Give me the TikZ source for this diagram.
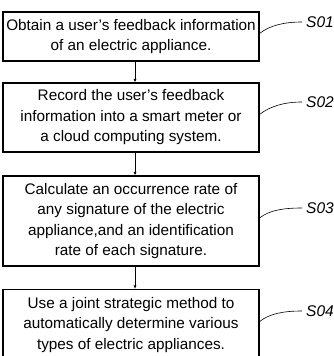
\documentclass[tikz,border=0pt]{standalone}
\usepackage{fontspec}
\setmainfont{Liberation Sans}
\usetikzlibrary{arrows.meta}
\begin{document}
\begin{tikzpicture}[x=1pt,y=1pt,
  box/.style={draw, line width=1.1pt, minimum width=256pt, inner sep=0pt, align=center,
    font=\fontsize{15.3}{20.5}\selectfont},
  lab/.style={inner sep=0pt, anchor=west, font=\fontsize{15.5}{18}\selectfont\itshape},
  conn/.style={line width=0.9pt, -{Latex[length=3.5pt,width=3pt]}},
  leader/.style={line width=0.6pt}]
\useasboundingbox[fill=white] (0,0) rectangle (334,356);
\node[box, minimum height=49pt] (b1) at (131,319.5) {Obtain a user's feedback information\\of an electric appliance.};
\node[box, minimum height=69pt] (b2) at (131,238.5) {Record the user's feedback\\information into a smart meter or\\a cloud computing system.};
\node[box, minimum height=90pt] (b3) at (131,135) {Calculate an occurrence rate of\\any signature of the electric\\appliance,and an identification\\rate of each signature.};
\node[box, minimum height=70pt, anchor=north] (b4) at (131,67) {Use a joint strategic method to\\automatically determine various\\types of electric appliances.};
\node[lab] (s1) at (306,334) {S01};
\node[lab] (s2) at (306,254) {S02};
\node[lab] (s3) at (306,148) {S03};
\node[lab] (s4) at (306,45) {S04};
\draw[conn] ([xshift=4pt]b1.south) -- ([xshift=4pt]b2.north);
\draw[conn] ([xshift=4pt]b2.south) -- ([xshift=4pt]b3.north);
\draw[conn] ([xshift=4pt]b3.south) -- ([xshift=4pt]b4.north);
\draw[leader] ([yshift=3pt]b1.east) .. controls +(10,8) and +(-18,0) .. ([xshift=-4pt]s1.west);
\draw[leader] ([yshift=3pt]b2.east) .. controls +(10,8) and +(-18,0) .. ([xshift=-4pt]s2.west);
\draw[leader] ([yshift=3pt]b3.east) .. controls +(10,8) and +(-18,0) .. ([xshift=-4pt]s3.west);
\draw[leader] ([yshift=3pt]b4.east) .. controls +(10,8) and +(-18,0) .. ([xshift=-4pt]s4.west);
\end{tikzpicture}
\end{document}
